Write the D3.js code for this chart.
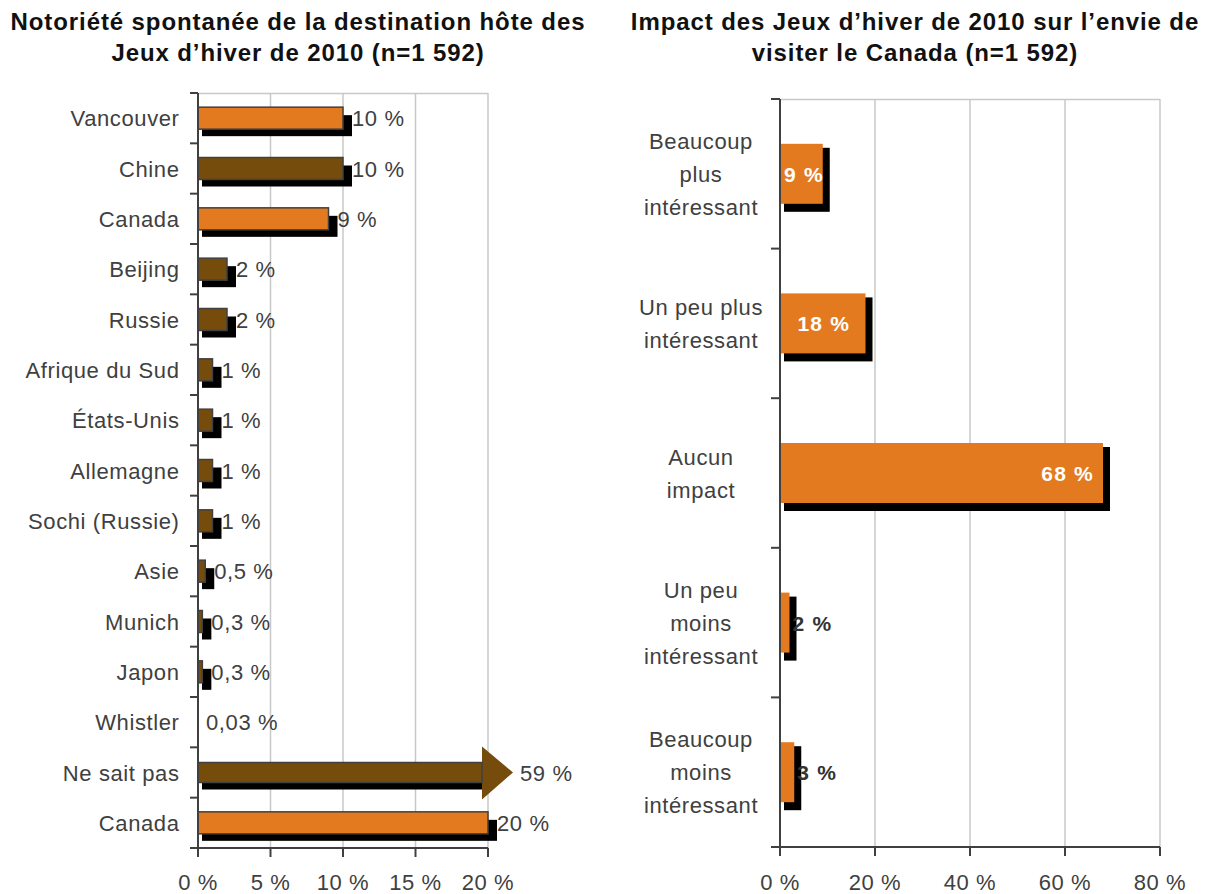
<!DOCTYPE html>
<html><head><meta charset="utf-8">
<script src="https://cdn.jsdelivr.net/npm/d3@7"></script>
<style>
body{margin:0;background:#fff;}
text{font-family:"Liberation Sans",Arial,sans-serif;}
</style></head><body>
<svg id="c" width="1207" height="894"></svg>
<script>
// Left chart data
const leftCategories = ["Vancouver","Chine","Canada","Beijing","Russie","Afrique du Sud","États-Unis","Allemagne","Sochi (Russie)","Asie","Munich","Japon","Whistler","Ne sait pas","Canada"];
const leftValues = [10,10,9,2,2,1,1,1,1,0.5,0.3,0.3,0.03,59,20];
const leftLabels = ["10 %","10 %","9 %","2 %","2 %","1 %","1 %","1 %","1 %","0,5 %","0,3 %","0,3 %","0,03 %","59 %","20 %"];
const leftGroups = ["o","b","o","b","b","b","b","b","b","b","b","b","b","b","o"];
const leftTicks = [0,5,10,15,20];
const leftTickLabels = ["0 %","5 %","10 %","15 %","20 %"];
// Right chart data
const rightCategories = [["Beaucoup","plus","intéressant"],["Un peu plus","intéressant"],["Aucun","impact"],["Un peu","moins","intéressant"],["Beaucoup","moins","intéressant"]];
const rightValues = [9,18,68,2,3];
const rightLabels = ["9 %","18 %","68 %","2 %","3 %"];
const rightTicks = [0,20,40,60,80];
const rightTickLabels = ["0 %","20 %","40 %","60 %","80 %"];

const ORANGE="#E47A1F", BROWN="#754C0B", AX="#404040", GRID="#C8C8C8", TXT="#404040";
const FS=22, LS="0.6px";
const svg = d3.select("#c");

function title(x, lines){
  const t = svg.append("text").attr("x",x).attr("text-anchor","middle")
    .attr("font-weight","bold").attr("font-size",24).attr("letter-spacing","0.9px").attr("fill","#111");
  lines.forEach((l,i)=>t.append("tspan").attr("x",x).attr("y",30+i*31).text(l));
}
title(298,["Notoriété spontanée de la destination hôte des","Jeux d’hiver de 2010 (n=1 592)"]);
title(915,["Impact des Jeux d’hiver de 2010 sur l’envie de","visiter le Canada (n=1 592)"]);

function label(g){ return g.append("text").attr("font-size",FS).attr("letter-spacing",LS).attr("fill",TXT); }

// ---------- Left chart ----------
{
  const x = d3.scaleLinear().domain([0,20]).range([198,488]);
  const y = d3.scaleBand().domain(d3.range(leftCategories.length)).range([93,848]);
  const g = svg.append("g");
  g.selectAll(".grid").data(leftTicks.slice(1)).join("line")
    .attr("x1",d=>x(d)).attr("x2",d=>x(d)).attr("y1",93).attr("y2",848)
    .attr("stroke",GRID).attr("stroke-width",1.5);
  g.append("line").attr("x1",198).attr("x2",488).attr("y1",93.5).attr("y2",93.5).attr("stroke",GRID).attr("stroke-width",1.5);
  const bh = 22;
  leftValues.forEach((v,i)=>{
    const cy = y(i)+y.bandwidth()/2;
    const col = leftGroups[i]==="o"?ORANGE:BROWN;
    if(v<0.1) return;
    if(v>20){
      const x0=x(0), xe=x(20)-6, tip=x(20)+25;
      g.append("rect").attr("x",x0+4).attr("y",cy-bh/2+8).attr("width",xe-x0).attr("height",bh-2).attr("fill","#000");
      g.append("path").attr("d",`M${x0},${cy-10}L${xe},${cy-10}L${xe},${cy-26}L${tip},${cy}L${xe},${cy+27}L${xe},${cy+10}L${x0},${cy+10}Z`)
        .attr("fill",col);
      g.append("rect").attr("x",x0).attr("y",cy-10).attr("width",xe-x0).attr("height",20).attr("fill","none").attr("stroke",AX).attr("stroke-width",1.5);
      label(g).attr("x",tip+7).attr("y",cy+8).text(leftLabels[i]);
      return;
    }
    const w = x(v)-x(0);
    g.append("rect").attr("x",x(0)+4).attr("y",cy-bh/2+8).attr("width",w+5).attr("height",bh-1).attr("fill","#000");
    g.append("rect").attr("x",x(0)).attr("y",cy-bh/2).attr("width",w).attr("height",bh)
      .attr("fill",col).attr("stroke",AX).attr("stroke-width",1.5);
  });
  leftValues.forEach((v,i)=>{
    if(v>20) return;
    const cy = y(i)+y.bandwidth()/2;
    const xe = v<0.1 ? x(0)+8 : x(v)+9;
    label(g).attr("x",xe).attr("y",cy+8).text(leftLabels[i]);
  });
  const ya = g.append("g");
  ya.append("line").attr("x1",198).attr("x2",198).attr("y1",93).attr("y2",848).attr("stroke",AX).attr("stroke-width",2);
  d3.range(leftCategories.length+1).forEach(i=>{
    const yy = i<leftCategories.length? y(i): 848;
    ya.append("line").attr("x1",190).attr("x2",198).attr("y1",yy).attr("y2",yy).attr("stroke",AX).attr("stroke-width",2);
  });
  leftCategories.forEach((c,i)=>{
    label(g).attr("x",179.5).attr("y",y(i)+y.bandwidth()/2+8).attr("text-anchor","end").text(c);
  });
  g.append("line").attr("x1",190).attr("x2",488).attr("y1",848).attr("y2",848).attr("stroke",AX).attr("stroke-width",2);
  leftTicks.forEach((t,i)=>{
    g.append("line").attr("x1",x(t)).attr("x2",x(t)).attr("y1",848).attr("y2",857).attr("stroke",AX).attr("stroke-width",2);
    label(g).attr("x",x(t)).attr("y",890).attr("text-anchor","middle").text(leftTickLabels[i]);
  });
}

// ---------- Right chart ----------
{
  const x = d3.scaleLinear().domain([0,80]).range([780,1160]);
  const y = d3.scaleBand().domain(d3.range(rightCategories.length)).range([99,847]);
  const g = svg.append("g");
  g.selectAll(".grid").data(rightTicks.slice(1)).join("line")
    .attr("x1",d=>x(d)).attr("x2",d=>x(d)).attr("y1",99).attr("y2",847)
    .attr("stroke",GRID).attr("stroke-width",1.5);
  g.append("line").attr("x1",780).attr("x2",1160).attr("y1",99.5).attr("y2",99.5).attr("stroke",GRID).attr("stroke-width",1.5);
  const bh = 60;
  rightValues.forEach((v,i)=>{
    const cy = y(i)+y.bandwidth()/2;
    const w = x(v)-x(0);
    g.append("rect").attr("x",x(0)+4).attr("y",cy-bh/2+4).attr("width",w+3).attr("height",bh+4).attr("fill","#000");
    g.append("rect").attr("x",x(0)).attr("y",cy-bh/2).attr("width",w).attr("height",bh).attr("fill",ORANGE);
  });
  rightValues.forEach((v,i)=>{
    const cy = y(i)+y.bandwidth()/2;
    const t = g.append("text").attr("y",cy+8).attr("font-size",21).attr("letter-spacing","1.2px").attr("font-weight","bold");
    if(v>=5){
      if(v>=50) t.attr("x",x(v)-9).attr("text-anchor","end");
      else if(v>=15) t.attr("x",(x(0)+x(v))/2+1).attr("text-anchor","middle");
      else t.attr("x",x(0)+4);
      t.attr("fill","#fff").text(rightLabels[i]);
    } else {
      t.attr("x",x(v)+3).attr("fill","#333").text(rightLabels[i]);
    }
  });
  const ya = g.append("g");
  ya.append("line").attr("x1",780).attr("x2",780).attr("y1",99).attr("y2",847).attr("stroke",AX).attr("stroke-width",2);
  d3.range(rightCategories.length+1).forEach(i=>{
    const yy = i<rightCategories.length? y(i): 847;
    ya.append("line").attr("x1",771).attr("x2",780).attr("y1",yy).attr("y2",yy).attr("stroke",AX).attr("stroke-width",2);
  });
  rightCategories.forEach((lines,i)=>{
    const cy = y(i)+y.bandwidth()/2;
    const t = label(g).attr("text-anchor","middle");
    lines.forEach((l,k)=>{
      t.append("tspan").attr("x",701).attr("y",cy+8+(k-(lines.length-1)/2)*33).text(l);
    });
  });
  g.append("line").attr("x1",771).attr("x2",1160).attr("y1",847).attr("y2",847).attr("stroke",AX).attr("stroke-width",2);
  rightTicks.forEach((t,i)=>{
    g.append("line").attr("x1",x(t)).attr("x2",x(t)).attr("y1",847).attr("y2",856).attr("stroke",AX).attr("stroke-width",2);
    label(g).attr("x",x(t)).attr("y",890).attr("text-anchor","middle").text(rightTickLabels[i]);
  });
}
</script></body></html>
